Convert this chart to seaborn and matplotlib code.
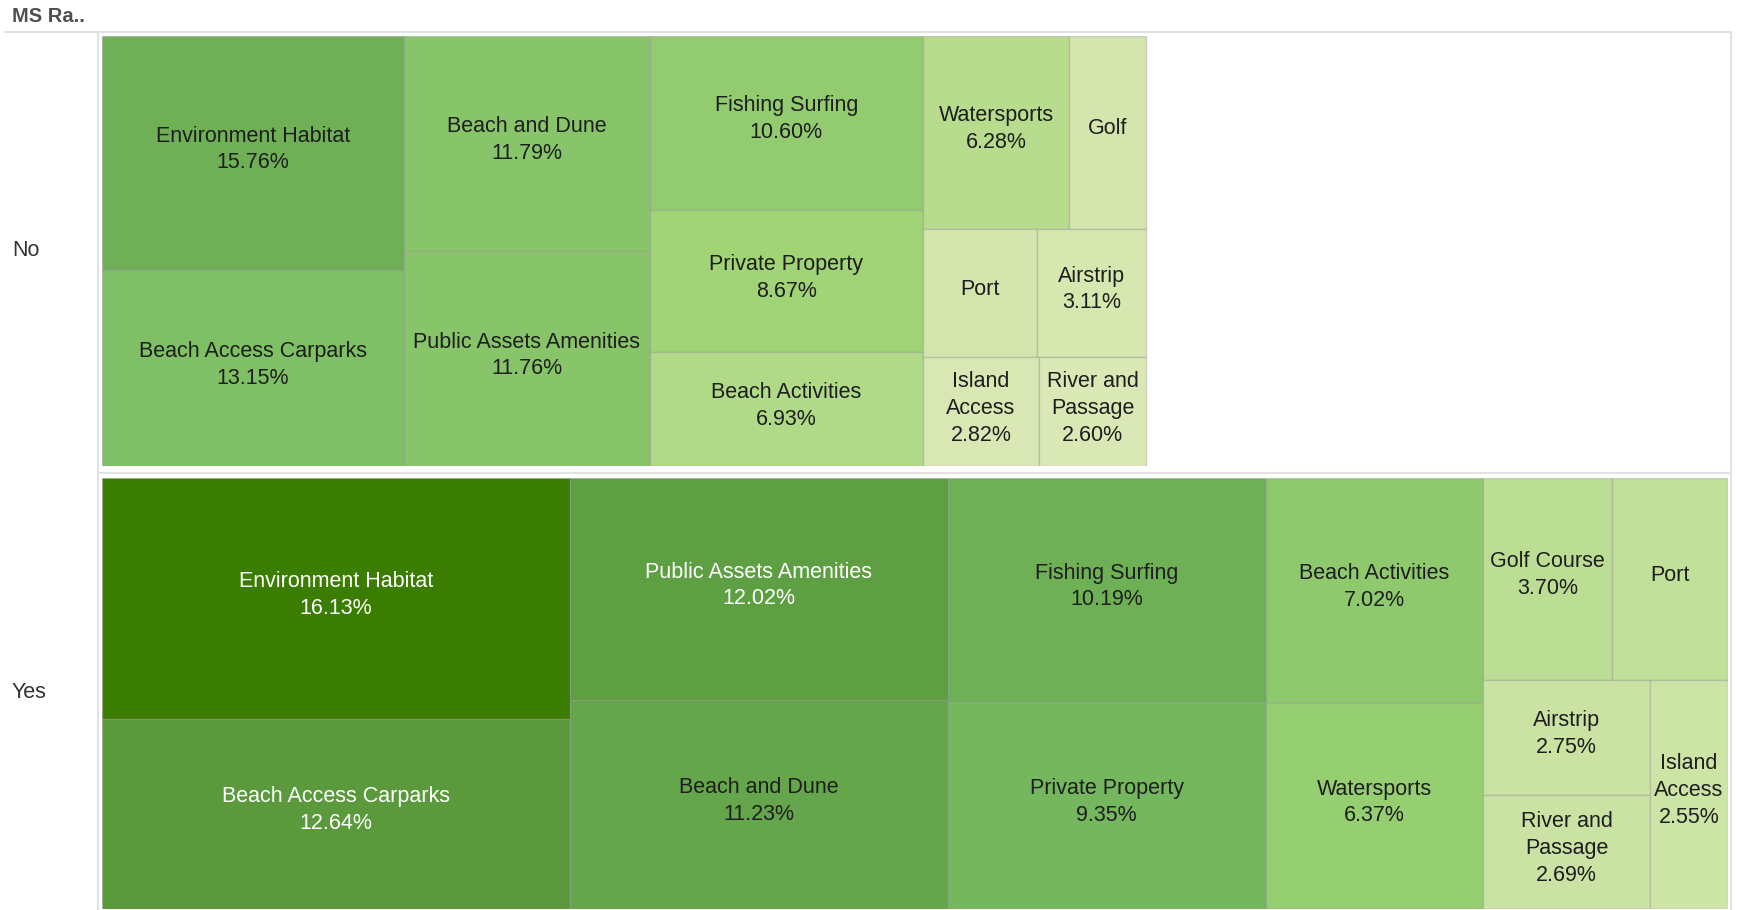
import matplotlib
matplotlib.use("Agg")
import matplotlib.pyplot as plt
import seaborn as sns
from matplotlib.patches import Rectangle
from matplotlib.font_manager import FontProperties
from matplotlib.colors import Normalize

# shares of records (%) per category, in the order the treemap draws them
no_categories = ["Environment Habitat", "Beach Access Carparks", "Beach and Dune",
                 "Public Assets Amenities", "Fishing Surfing", "Private Property",
                 "Beach Activities", "Watersports", "Golf", "Port", "Airstrip",
                 "Island Access", "River and Passage"]
no_pct = [15.76, 13.15, 11.79, 11.76, 10.60, 8.67, 6.93, 6.28, 3.30, 3.23, 3.11, 2.82, 2.60]

yes_categories = ["Environment Habitat", "Beach Access Carparks", "Public Assets Amenities",
                  "Beach and Dune", "Fishing Surfing", "Private Property",
                  "Beach Activities", "Watersports", "Golf Course", "Port", "Airstrip",
                  "River and Passage", "Island Access"]
yes_pct = [16.13, 12.64, 12.02, 11.23, 10.19, 9.35, 7.02, 6.37, 3.70, 3.36, 2.75, 2.69, 2.55]

# rows of the view and their relative record counts (pane size and colour)
group_labels = ["No", "Yes"]
group_records = [642, 1000]

# labels shown without percentage
name_only = ["Golf", "Port"]

# how many cells go into each strip of the treemap
no_strips = [2, 2, 3, 2, 2, 1, 1]
yes_strips = [2, 2, 2, 2, 2, 2, 1]

sns.set_theme(style="white")
plt.rcParams["font.family"] = ["Liberation Sans", "DejaVu Sans"]

W, H = 1737, 910
fig = plt.figure(figsize=(W / 100, H / 100), dpi=100)
renderer = fig.canvas.get_renderer()
label_font = FontProperties(family=["Liberation Sans", "DejaVu Sans"], size=15.5)

# green sequential scale, like Tableau's default
cmap = sns.blend_palette(["#dae8b5", "#a3d679", "#79bb62", "#5b9b40", "#3b7d00"], as_cmap=True)
counts = [[p * n / 100 for p in pct] for pct, n in zip([no_pct, yes_pct], group_records)]
norm = Normalize(min(min(c) for c in counts), max(max(c) for c in counts))

# frame / header drawn in pixel coords
frame = fig.add_axes([0, 0, 1, 1])
frame.set_xlim(0, W)
frame.set_ylim(H, 0)
frame.axis("off")
line_col = "#e2e2e2"
frame.plot([5, 1731], [32, 32], color=line_col, lw=1.5)
frame.plot([98, 98], [32, H], color=line_col, lw=1.5)
frame.plot([1731, 1731], [32, H], color=line_col, lw=1.5)
frame.plot([98, 1731], [473, 473], color=line_col, lw=1.5)
frame.text(12, 17, "MS Ra..", fontsize=14.5, fontweight="bold", color="#505050",
           va="center", ha="left")


def text_px(s):
    w, h, d = renderer.get_text_width_height_descent(s, label_font, ismath=False)
    return w


def wrap_name(name, max_px):
    words = name.split()
    lines = [words[0]]
    for wd in words[1:]:
        trial = lines[-1] + " " + wd
        if text_px(trial) <= max_px:
            lines[-1] = trial
        else:
            lines.append(wd)
    return lines


def strip_layout(sizes, strips, x, y, w, h, sx, sy):
    rects = []
    i = 0
    for n in strips:
        chunk = sizes[i:i + n]
        frac = sum(chunk) / sum(sizes[i:])
        if w * sx >= h * sy:
            # wide area: column on the left, cells stacked
            cw = w * frac
            yy = y
            for s in chunk:
                ch = h * s / sum(chunk)
                rects.append((x, yy, cw, ch))
                yy += ch
            x += cw
            w -= cw
        else:
            # tall area: row on top, cells side by side
            rh = h * frac
            xx = x
            for s in chunk:
                cw = w * s / sum(chunk)
                rects.append((xx, y, cw, rh))
                xx += cw
            y += rh
            h -= rh
        i += n
    return rects


pane_left, pane_right = 102, 1728
pane_tops = [35.5, 477.5]
pane_h = 431
max_rec = max(group_records)

groups = [(no_categories, no_pct, no_strips), (yes_categories, yes_pct, yes_strips)]
for g, (cats, pct, strips) in enumerate(groups):
    top = pane_tops[g]
    ax = fig.add_axes([pane_left / W, 1 - (top + pane_h) / H,
                       (pane_right - pane_left) / W, pane_h / H])
    ax.set_xlim(0, max_rec)
    ax.set_ylim(1, 0)
    ax.axis("off")
    frame.text(12, top + pane_h / 2, group_labels[g], fontsize=15.5, color="#333333",
               va="center", ha="left")

    sx = (pane_right - pane_left) / max_rec
    sy = pane_h
    sizes = counts[g]
    rects = strip_layout(sizes, strips, 0, 0, group_records[g], 1, sx, sy)
    for cat, p, c, (x, y, w, h) in zip(cats, pct, sizes, rects):
        t = norm(c)
        ax.add_patch(Rectangle((x, y), w, h, facecolor=cmap(t),
                               edgecolor=(0.55, 0.55, 0.55, 0.35), lw=1.0))
        lines = wrap_name(cat, w * sx - 6)
        if cat not in name_only:
            lines.append(f"{p:.2f}%")
        ax.text(x + w / 2, y + h / 2 - 0.008, "\n".join(lines), fontproperties=label_font,
                ha="center", va="center", linespacing=1.36,
                color="white" if t > 0.69 else "#1e1e1e")

fig.savefig("out.png", dpi=100)
